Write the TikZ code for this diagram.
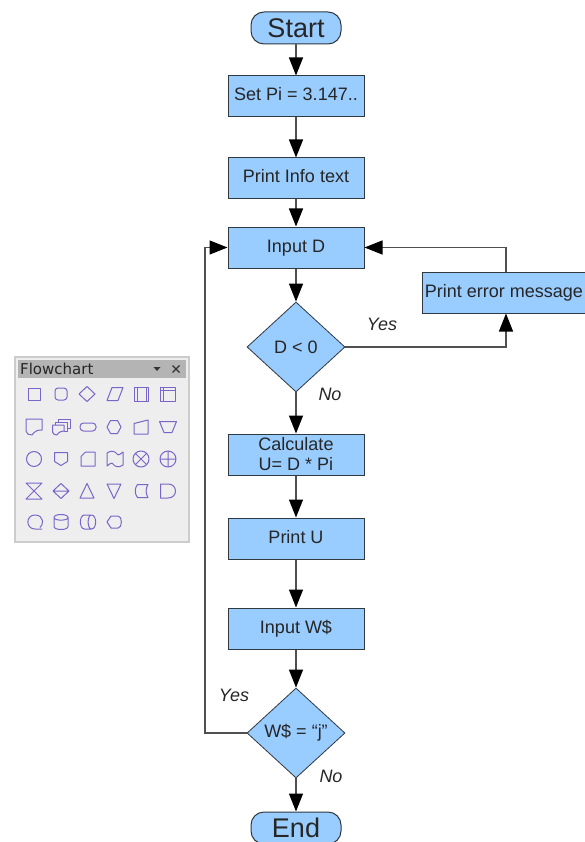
\documentclass[tikz,border=0pt]{standalone}
\usepackage{fontspec}
\setmainfont{Liberation Sans}
\newfontfamily\panelfont{DejaVu Sans}
\usetikzlibrary{arrows.meta, shapes.geometric}
\definecolor{boxblue}{HTML}{99CCFF}
\definecolor{boxline}{HTML}{303840}
\definecolor{flowline}{HTML}{505050}
\definecolor{iconline}{HTML}{7A66C8}
\definecolor{panelfill}{HTML}{EEEEEE}
\definecolor{panelline}{HTML}{CCCCCC}
\definecolor{panelbar}{HTML}{B4B4B4}

\begin{document}
\begin{tikzpicture}[x=1pt, y=1pt,
		every node/.style={font=\fontsize{18}{18}\selectfont, text=black!85},
		stepbox/.style={draw=boxline, fill=boxblue, line width=1pt, minimum width=136pt, minimum height=41pt, inner sep=0pt, align=center, text height=13pt, text depth=4pt},
		endbox/.style={draw=boxline, fill=boxblue, line width=1pt, rounded corners=13pt, minimum width=90pt, minimum height=32pt, inner sep=0pt, font=\fontsize{27}{27}\selectfont},
		testbox/.style={diamond, draw=boxline, fill=boxblue, line width=.8pt, minimum width=98pt, minimum height=90pt, inner sep=0pt},
		flow/.style={draw=flowline, line width=1.2pt, -{Triangle[length=18pt, width=14pt, color=black]}},
		answer/.style={font=\fontsize{18}{18}\selectfont\itshape},
		icon/.style={draw=iconline, line width=1pt, line join=round}]
	\useasboundingbox (0,0) rectangle (585,-842);

	\node[endbox] (Start) at (296,-28) {Start};
	\node[stepbox] (SetPi) at (296,-96.5) {Set Pi = 3.147..};
	\node[stepbox] (PrintInfo) at (296,-178.5) {Print Info text};
	\node[stepbox] (InputD) at (296,-247.5) {Input D};
	\node[testbox] (TestD) at (296,-347) {D < 0};
	\node[stepbox, minimum width=164pt] (PrintError) at (504,-292.5) {Print error message};
	\node[stepbox, text height=, text depth=] (Calc) at (296,-454.5) {Calculate\\[2pt]U= D * Pi};
	\node[stepbox] (PrintU) at (296,-538.5) {Print U};
	\node[stepbox] (InputW) at (296,-628.5) {Input W\$};
	\node[testbox] (TestW) at (296,-733) {W\$ = “j”};
	\node[endbox] (End) at (296,-828) {End};

	\node[answer] (YesD) at (382,-324) {Yes};
	\node[answer] (NoD) at (330,-394) {No};
	\node[answer] (YesW) at (234,-695) {Yes};
	\node[answer] (NoW) at (331,-776) {No};

	\coordinate (BackLeft) at (205,-733);

	\draw[flow] (Start) -- (SetPi);
	\draw[flow] (SetPi) -- (PrintInfo);
	\draw[flow] (PrintInfo) -- (InputD);
	\draw[flow] (InputD) -- (TestD);
	\draw[flow] (TestD) -- (Calc);
	\draw[flow] (Calc) -- (PrintU);
	\draw[flow] (PrintU) -- (InputW);
	\draw[flow] (InputW) -- (TestW);
	\draw[flow] (TestW) -- (End);
	\draw[flow] (TestD.east) -| ([xshift=2pt]PrintError.south);
	\draw[flow] ([xshift=2pt]PrintError.north) |- (InputD.east);
	\draw[flow] (TestW.west) -- (BackLeft) |- (InputD.west);

	\draw[draw=panelline, fill=panelfill, line width=1.5pt] (15,-357) rectangle (189,-542);
	\fill[panelbar] (18,-360) rectangle (186,-378);
	\node[anchor=west, inner sep=0pt, font=\panelfont\fontsize{15}{15}\selectfont] (PanelTitle) at (20,-369) {Flowchart};
	\fill[black!80] (153.5,-367) -- (160.5,-367) -- (157,-371) -- cycle;
	\draw[black!80, line width=1.4pt] (172.5,-365.5) -- (179.5,-372.5) (172.5,-372.5) -- (179.5,-365.5);

	\draw[icon, shift={(34.5,-394)}] (-6,-6) rectangle (6,6);
	\draw[icon, shift={(61,-394)}, rounded corners=3pt] (-6,-6) rectangle (6,6);
	\draw[icon, shift={(87,-394)}] (-8,0) -- (0,7.5) -- (8,0) -- (0,-7.5) -- cycle;
	\draw[icon, shift={(115,-394)}] (-8,-6.5) -- (-3,6.5) -- (8,6.5) -- (3,-6.5) -- cycle;
	\draw[icon, shift={(141.5,-394)}] (-7,-7) rectangle (7,7) (-4.5,-7) -- (-4.5,7) (4.5,-7) -- (4.5,7);
	\draw[icon, shift={(168,-394)}] (-7.5,-7) rectangle (7.5,7) (-4.5,-7) -- (-4.5,7) (-7.5,4) -- (7.5,4);

	\draw[icon, shift={(34,-427)}] (-8,8) -- (8,8) -- (8,-3) .. controls (3,-3) and (1,-4) .. (-2,-8) .. controls (-5,-8) and (-8,-7) .. (-8,-4) -- cycle;
	\draw[icon, shift={(61,-427)}] (-3,5) -- (-3,8) -- (9,8) -- (9,-1) -- (6,-1) (-6,2) -- (-6,5) -- (6,5) -- (6,-4) -- (3,-4);
	\draw[icon, shift={(61,-427)}] (-8.5,2) -- (3,2) -- (3,-4) .. controls (0,-4) and (-2,-5) .. (-4,-8) .. controls (-6,-8) and (-8.5,-7) .. (-8.5,-5) -- cycle;
	\draw[icon, shift={(88,-427)}, rounded corners=3.5pt] (-8,-4) rectangle (8,4);
	\draw[icon, shift={(114,-427)}] (-7,0) -- (-3.5,6.5) -- (3.5,6.5) -- (7,0) -- (3.5,-6.5) -- (-3.5,-6.5) -- cycle;
	\draw[icon, shift={(141,-427)}] (-7,-7) -- (7,-7) -- (7,7) -- (-7,3.5) -- cycle;
	\draw[icon, shift={(168,-427)}] (-8.5,5.5) -- (8.5,5.5) -- (4,-5.5) -- (-4,-5.5) -- cycle;

	\draw[icon, shift={(34,-459)}] (0,0) circle (7.5);
	\draw[icon, shift={(61,-459)}] (-6.5,6.5) -- (6.5,6.5) -- (6.5,-2.5) -- (0,-6.5) -- (-6.5,-2.5) -- cycle;
	\draw[icon, shift={(88,-459)}] (-7,-7) -- (7,-7) -- (7,7) -- (-2.5,7) -- (-7,2.5) -- cycle;
	\draw[icon, shift={(115,-459)}] (-8,6) .. controls (-4,9) and (0,8) .. (2,5) .. controls (3,3) and (6,5) .. (8,7) -- (8,-6) .. controls (4,-9) and (0,-8) .. (-2,-5) .. controls (-3,-3) and (-6,-5) .. (-8,-7) -- cycle;
	\draw[icon, shift={(141,-459)}] (0,0) circle (8) (-5.6,-5.6) -- (5.6,5.6) (-5.6,5.6) -- (5.6,-5.6);
	\draw[icon, shift={(168,-459)}] (0,0) circle (8) (-8,0) -- (8,0) (0,-8) -- (0,8);

	\draw[icon, shift={(34,-491)}] (-8,8) -- (8,8) -- (-8,-8) -- (8,-8) -- cycle;
	\draw[icon, shift={(61,-491)}] (-8,0) -- (0,7.5) -- (8,0) -- (0,-7.5) -- cycle (-8,0) -- (8,0);
	\draw[icon, shift={(87,-491)}] (-7,-7) -- (7,-7) -- (0,7.5) -- cycle;
	\draw[icon, shift={(114,-491)}] (-7,7) -- (7,7) -- (0,-7.5) -- cycle;
	\draw[icon, shift={(141,-491)}] (-3.5,6.5) -- (7,6.5) .. controls (4.5,3) and (4.5,-3) .. (7,-6.5) -- (-3.5,-6.5) .. controls (-6.5,-3) and (-6.5,3) .. (-3.5,6.5) -- cycle;
	\draw[icon, shift={(168,-491)}] (-7.5,7) -- (0,7) .. controls (10,7) and (10,-7) .. (0,-7) -- (-7.5,-7) -- cycle;

	\draw[icon, shift={(35,-522)}] (7,-7) -- (0,-7) .. controls (-9.5,-7) and (-9.5,7) .. (0,7) .. controls (9,7) and (9,-3) .. (5,-5.5);
	\draw[icon, shift={(61,-522)}] (-7,4.5) .. controls (-7,8.5) and (7,8.5) .. (7,4.5) -- (7,-4.5) .. controls (7,-8.5) and (-7,-8.5) .. (-7,-4.5) -- cycle (-7,4.5) .. controls (-7,1) and (7,1) .. (7,4.5);
	\draw[icon, shift={(88,-522)}] (-3.5,7) -- (3.5,7) .. controls (9,7) and (9,-7) .. (3.5,-7) -- (-3.5,-7) .. controls (-9,-7) and (-9,7) .. (-3.5,7) (3.5,7) .. controls (-1,7) and (-1,-7) .. (3.5,-7);
	\draw[icon, shift={(114,-522)}] (-7,0) -- (-3,6) -- (4,6) .. controls (8.5,6) and (8.5,-6) .. (4,-6) -- (-3,-6) -- cycle;
\end{tikzpicture}
\end{document}
